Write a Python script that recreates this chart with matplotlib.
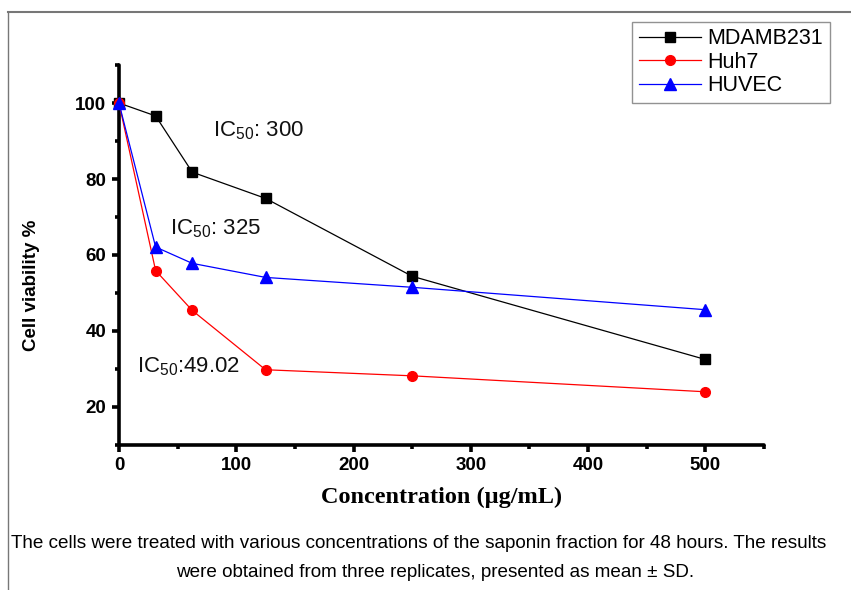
import matplotlib
matplotlib.use("Agg")
import matplotlib.pyplot as plt
from matplotlib.lines import Line2D
from matplotlib.ticker import MultipleLocator

plt.rcParams["mathtext.fontset"] = "custom"
plt.rcParams["mathtext.rm"] = "Liberation Sans"
plt.rcParams["mathtext.it"] = "Liberation Sans:italic"
plt.rcParams["mathtext.bf"] = "Liberation Sans:bold"

conc = [0, 31.25, 62.5, 125, 250, 500]
mdamb231 = [100, 96.6, 81.8, 74.9, 54.4, 32.5]
huh7 = [100, 55.9, 45.4, 29.8, 28.2, 24.0]
huvec = [100, 62.1, 57.8, 54.1, 51.5, 45.6]
series_names = ["MDAMB231", "Huh7", "HUVEC"]
xticks = [0, 100, 200, 300, 400, 500]
yticks = [20, 40, 60, 80, 100]

fig = plt.figure(figsize=(8.51, 5.90), dpi=100)
ax = fig.add_axes([0.1398, 0.2458, 0.758, 0.644])

ax.plot(conc, mdamb231, color="black", lw=0.9, marker="s", ms=6.5, label=series_names[0], clip_on=False, zorder=3)
ax.plot(conc, huh7, color="red", lw=0.9, marker="o", ms=7, label=series_names[1], clip_on=False, zorder=3)
ax.plot(conc, huvec, color="blue", lw=0.9, marker="^", ms=8, label=series_names[2], clip_on=False, zorder=3)

ax.set_xlim(0, 550)
ax.set_ylim(10, 110)
ax.set_xticks(xticks)
ax.set_yticks(yticks)
ax.xaxis.set_minor_locator(MultipleLocator(50))
ax.yaxis.set_minor_locator(MultipleLocator(10))
for s in ["top", "right"]:
    ax.spines[s].set_visible(False)
for s in ["left", "bottom"]:
    ax.spines[s].set_linewidth(2.6)
    ax.spines[s].set_capstyle("round")
ax.tick_params(which="major", direction="out", length=5, width=2.6, pad=4)
ax.tick_params(which="minor", direction="out", length=3, width=2.6)
for lab in ax.get_xticklabels() + ax.get_yticklabels():
    lab.set_fontfamily("Liberation Sans")
    lab.set_fontweight("bold")
    lab.set_fontsize(13.5)

ax.set_xlabel("Concentration (\u00b5g/mL)", fontfamily="Liberation Serif", fontweight="bold", fontsize=17.5, labelpad=9)
ax.set_ylabel("Cell viability %", fontfamily="Liberation Sans", fontweight="bold", fontsize=13.5)
ax.yaxis.set_label_coords(-0.122, 0.421)

tfont = dict(fontfamily="Liberation Sans", fontsize=16, color="#111111")
ax.text(80, 92.6, "IC$_{50}$: 300", va="center", ha="left", **tfont)
ax.text(43.5, 67.0, "IC$_{50}$: 325", va="center", ha="left", **tfont)
ax.text(15.5, 30.5, "IC$_{50}$:49.02", va="center", ha="left", **tfont)

leg = ax.legend(loc="upper left", bbox_to_anchor=(0.743, 0.963), bbox_transform=fig.transFigure,
                frameon=True, fancybox=False, edgecolor="#777777", borderpad=0.3, borderaxespad=0,
                handlelength=2.9, handletextpad=0.3, labelspacing=0.12,
                prop={"family": "Liberation Sans", "size": 15.5})
leg.get_frame().set_linewidth(1.0)

# outer frame lines (top and left)
fig.add_artist(Line2D([0.0095, 1.0], [0.979, 0.979], transform=fig.transFigure, color="#777777", lw=1.5))
fig.add_artist(Line2D([0.0095, 0.0095], [0.0, 0.979], transform=fig.transFigure, color="#777777", lw=1.0))

cap = dict(fontfamily="Liberation Sans", fontsize=13.6, color="black")
fig.text(0.013, 0.078, "The cells were treated with various concentrations of the saponin fraction for 48 hours. The results",
         ha="left", va="center", **cap)
fig.text(0.511, 0.029, "were obtained from three replicates, presented as mean \u00b1 SD.", ha="center", va="center", **cap)

fig.savefig("out.png", dpi=100)
